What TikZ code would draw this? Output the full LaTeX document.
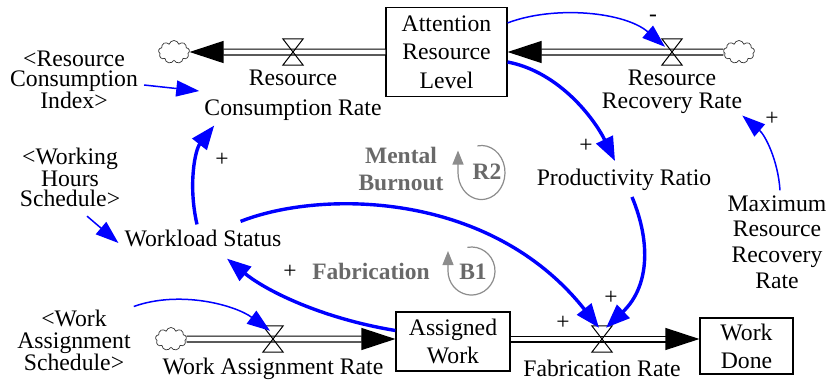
\documentclass[tikz,border=0pt]{standalone}
\usepackage{fontspec}
\newfontfamily\diagfont{Liberation Serif}
\usetikzlibrary{arrows.meta,calc,shapes.symbols}

\definecolor{loopgray}{RGB}{105,105,105}
\definecolor{looparc}{RGB}{140,140,140}
\definecolor{linkblue}{RGB}{0,0,255}

\tikzset{
  lbl/.style={align=center, inner sep=6pt},
  stock/.style={draw, line width=1.2pt, align=center, inner sep=3pt},
  loopname/.style={text=loopgray, align=center, inner sep=6pt},
  sign/.style={inner sep=6pt},
  valve/.style={minimum width=20pt, minimum height=26pt, inner sep=0pt},
  valvepath/.style={line width=1pt, line join=miter},
  pipe/.style={draw=black, line width=1.2pt, double=white, double distance=4.6pt,
    -{Triangle[length=34pt,width=22pt]}},
  sourcecloud/.style={cloud, cloud puffs=9, cloud ignores aspect, draw=black!80,
    line width=0.7pt, minimum width=31pt, minimum height=23pt, inner sep=0pt},
  thin link/.style={draw=linkblue, line width=1.5pt,
    -{Triangle[length=23pt,width=16pt,fill=linkblue]}},
  thick link/.style={draw=linkblue, line width=3.4pt,
    -{Triangle[length=24pt,width=18pt,fill=linkblue]}},
  loop arrow/.style={draw=looparc, line width=1.2pt,
    -{Triangle[length=14pt,width=11pt,fill=looparc]}},
}

\begin{document}
\begin{tikzpicture}[x=1pt,y=-1pt]
\useasboundingbox (0,0) rectangle (830,381);

% stocks
\node[stock, font=\diagfont\fontsize{23.7}{28.5}\selectfont, minimum width=121pt, minimum height=89pt] (att) at (446.5,52) {Attention\\Resource\\Level};
\node[stock, font=\diagfont\fontsize{23.7}{28}\selectfont, minimum width=114pt, minimum height=59pt] (aw) at (453,341.5) {Assigned\\Work};
\node[stock, font=\diagfont\fontsize{23.7}{28}\selectfont, minimum width=93pt, minimum height=56pt] (wd) at (746.5,346) {Work\\Done};

% clouds
\node[sourcecloud] (cl1) at (174,52) {};
\node[sourcecloud] (cl2) at (739,52) {};
\node[sourcecloud] (cl3) at (171,339) {};

% valves
\node[valve] (vCons) at (293,52) {};
\node[valve] (vRec) at (672,52) {};
\node[valve] (vAsg) at (273,339) {};
\node[valve] (vFab) at (602,339) {};

% variables
\node[lbl, font=\diagfont\fontsize{23.7}{30}\selectfont] (rcr) at (293,95) {Resource\\Consumption Rate};
\node[lbl, font=\diagfont\fontsize{23.7}{23}\selectfont] (rrr) at (672,91.5) {Resource\\Recovery Rate};
\node[lbl, font=\diagfont\fontsize{23.7}{20}\selectfont] (rci) at (74,80) {<Resource\\Consumption\\Index>};
\node[lbl, font=\diagfont\fontsize{23.7}{20.5}\selectfont] (whs) at (70,177.5) {<Working\\Hours\\Schedule>};
\node[lbl, font=\diagfont\fontsize{23.7}{28}\selectfont] (ws) at (203,238) {Workload Status};
\node[lbl, font=\diagfont\fontsize{23.7}{28}\selectfont] (pr) at (624,180) {Productivity Ratio};
\node[lbl, font=\diagfont\fontsize{23.7}{25.7}\selectfont] (mrr) at (777,242) {Maximum\\Resource\\Recovery\\Rate};
\node[lbl, font=\diagfont\fontsize{23.7}{22}\selectfont] (was) at (74,340) {<Work\\Assignment\\Schedule>};
\node[lbl, font=\diagfont\fontsize{23.7}{28}\selectfont] (war) at (273,369) {Work Assignment Rate};
\node[lbl, font=\diagfont\fontsize{23.7}{28}\selectfont] (fr) at (602,368) {Fabrication Rate};

% flows (pipes)
\draw[pipe] (att.west) -- (cl1.east);
\draw[pipe] (cl2.west) -- (att.east);
\draw[pipe] (cl3.east) -- (aw.west |- vAsg);
\draw[pipe] (aw.east |- vFab) -- (wd.west |- vFab);
\foreach \v in {vCons,vRec,vAsg,vFab}
  \draw[valvepath] (\v.north west) -- (\v.north east) -- (\v.south west) -- (\v.south east) -- cycle;

% causal links
\draw[thin link] ($(rci.east)+(0,5)$) -- ($(rcr.west)+(1,-4)$);
\draw[thin link] ($(whs.south)+(17,3)$) -- ($(ws.west)+(0,5)$);
\draw[thick link] ($(ws.north)+(-6,1)$) .. controls (188,185) and (195,150) .. ($(rcr.south west)+(16,-1)$);
\draw[thick link] ($(ws.north east)+(-47,-2)$) .. controls (320,190) and (490,190) .. ($(vFab.north)+(-3,2)$);
\draw[thick link] ($(aw.west)+(0,-11)$) .. controls (320,318) and (265,290) .. ($(ws.south)+(24,6)$);
\draw[thick link] ($(att.east)+(0,10)$) .. controls (560,72) and (595,120) .. ($(pr.north)+(-9,-2)$);
\draw[thick link] ($(pr.south)+(8,0)$) .. controls (652,245) and (648,288) .. ($(vFab.north)+(4,2)$);
\draw[thin link] ($(att.north east)+(0,16)$) .. controls (555,5) and (625,12) .. ($(vRec.north)+(-7,8)$);
\draw[thin link] ($(mrr.north)+(3,1)$) .. controls (778,160) and (765,135) .. ($(rrr.south east)+(-6,-4)$);
\draw[thin link] ($(was.north east)+(-3,3)$) .. controls (180,290) and (235,305) .. ($(vAsg.north)+(-3,5)$);

% polarities
\node[sign, font=\diagfont\fontsize{23.5}{28}\selectfont] (s1) at (222,160) {+};
\node[sign, font=\diagfont\fontsize{23.5}{28}\selectfont] (s2) at (290,272) {+};
\node[sign, font=\diagfont\fontsize{23.5}{28}\selectfont] (s3) at (586,146) {+};
\node[sign, font=\diagfont\fontsize{23.5}{28}\selectfont] (s4) at (611,298) {+};
\node[sign, font=\diagfont\fontsize{23.5}{28}\selectfont] (s5) at (563,323) {+};
\node[sign, font=\diagfont\fontsize{23.5}{28}\selectfont] (s6) at (772,119) {+};
\node[sign, font=\diagfont\fontsize{23.5}{28}\selectfont] (s7) at (653,18) {-};

% feedback loops
\node[loopname, font=\diagfont\bfseries\fontsize{23.5}{27}\selectfont] (mb) at (401,168.5) {Mental\\Burnout};
\node[loopname, font=\diagfont\bfseries\fontsize{23.5}{27}\selectfont] (fab) at (371,271) {Fabrication};
\coordinate (r2c) at (481.5,172.5);
\coordinate (b1c) at (471.5,271);
\draw[loop arrow] ($(r2c)+(100:23.5pt and 27pt)$) arc[start angle=100, end angle=-180, x radius=23.5pt, y radius=27pt] -- ++(0pt,22pt);
\draw[loop arrow] ($(b1c)+(100:23.5pt and 24pt)$) arc[start angle=100, end angle=-180, x radius=23.5pt, y radius=24pt] -- ++(0pt,20pt);
\node[loopname, font=\diagfont\bfseries\fontsize{23.5}{27}\selectfont] (r2) at (487,172) {R2};
\node[loopname, font=\diagfont\bfseries\fontsize{23.5}{27}\selectfont] (b1) at (473,272) {B1};
\end{tikzpicture}
\end{document}
